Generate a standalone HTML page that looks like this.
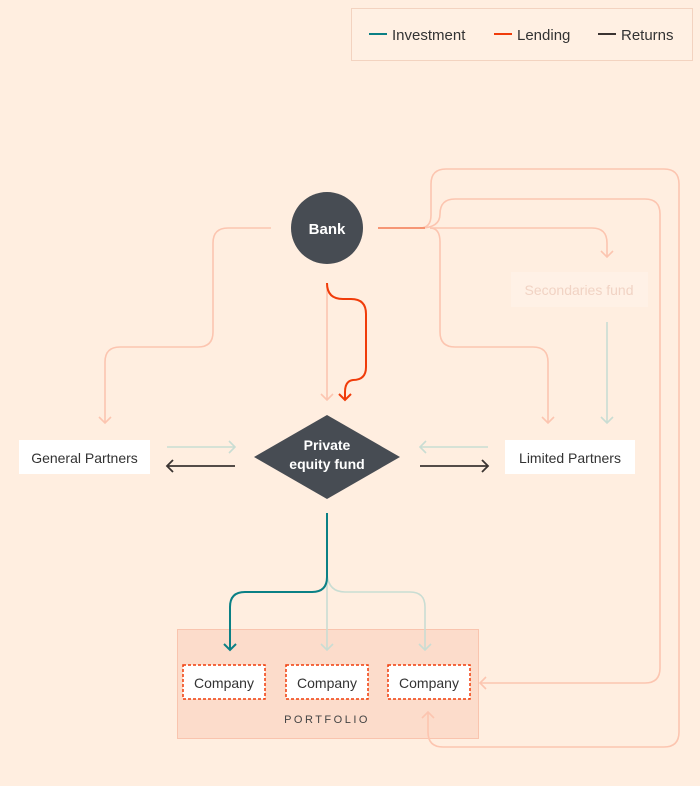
<!DOCTYPE html>
<html><head><meta charset="utf-8"><style>
html,body{margin:0;padding:0;background:#ffeee0;}
svg{display:block;font-family:"Liberation Sans",sans-serif;}
</style></head><body>
<svg width="700" height="786" viewBox="0 0 700 786" xmlns="http://www.w3.org/2000/svg">
<rect width="700" height="786" fill="#ffeee0"/>
<!-- portfolio background -->
<rect x="177.5" y="629.5" width="301" height="109" fill="#fcdccb" stroke="#f9c4ae"/>
<!-- legend -->
<rect x="351.5" y="8.5" width="341" height="52" fill="#fff0e3" stroke="#f3d3c0"/>
<line x1="369" y1="34" x2="387" y2="34" stroke="#0b8085" stroke-width="2"/>
<text x="392" y="40" font-size="15" fill="#333">Investment</text>
<line x1="494" y1="34" x2="512" y2="34" stroke="#f03c0a" stroke-width="2"/>
<text x="517" y="40" font-size="15" fill="#333">Lending</text>
<line x1="598" y1="34" x2="616" y2="34" stroke="#3b3432" stroke-width="2"/>
<text x="621" y="40" font-size="15" fill="#333">Returns</text>

<g fill="none" stroke="#fcc5b0" stroke-width="1.6">
<path d="M271 228 H228 Q213 228 213 243 V332 Q213 347 198 347 H120 Q105 347 105 362 V423"/>
<path d="M99 417 L105 423 L111 417"/>
<path d="M420 228 Q431 228 431 215 V184 Q431 169 446 169 H664 Q679 169 679 184 V732 Q679 747 664 747 H443 Q428 747 428 732 V712"/>
<path d="M422 718 L428 712 L434 718"/>
<path d="M420 228 Q440 228 440 214 Q440 199 455 199 H645 Q660 199 660 214 V668 Q660 683 645 683 H480"/>
<path d="M486 677 L480 683 L486 689"/>
<path d="M430 228 H592 Q607 228 607 243 V257"/>
<path d="M601 251 L607 257 L613 251"/>
<path d="M430 228 Q440 228 440 242 V332 Q440 347 455 347 H533 Q548 347 548 362 V423"/>
<path d="M542 417 L548 423 L554 417"/>
<path d="M327 283 V400"/>
<path d="M321 394 L327 400 L333 394"/>
</g>
<line x1="378" y1="228" x2="425" y2="228" stroke="#f58a66" stroke-width="1.8"/>
<path d="M327 283 Q327 299 343 299 H351 Q366 299 366 314 V367 Q366 380 353 380 Q345 381 345 392 V400" fill="none" stroke="#f03c0a" stroke-width="2"/>
<path d="M339 394 L345 400 L351 394" fill="none" stroke="#f03c0a" stroke-width="2"/>
<rect x="511" y="272" width="137" height="35" fill="#fff1e6"/>
<text x="579" y="295" font-size="14" fill="#f1d3c4" text-anchor="middle">Secondaries fund</text>
<g fill="none" stroke="#c9ddd3" stroke-width="1.6">
<path d="M607 322 V423"/><path d="M601 417 L607 423 L613 417"/>
<path d="M167 447 H235"/><path d="M229 441 L235 447 L229 453"/>
<path d="M488 447 H420"/><path d="M426 441 L420 447 L426 453"/>
<path d="M327 513 V650"/><path d="M321 644 L327 650 L333 644"/>
<path d="M327 575 Q329 592 345 592 H410 Q425 592 425 607 V650"/><path d="M419 644 L425 650 L431 644"/>
</g>
<g fill="none" stroke="#3b3432" stroke-width="1.8">
<path d="M235 466 H167"/><path d="M173 460 L167 466 L173 472"/>
<path d="M420 466 H488"/><path d="M482 460 L488 466 L482 472"/>
</g>
<path d="M327 513 V577 Q327 592 312 592 H245 Q230 592 230 607 V650" fill="none" stroke="#0b8085" stroke-width="2"/>
<path d="M224 644 L230 650 L236 644" fill="none" stroke="#0b8085" stroke-width="2"/>
<circle cx="327" cy="228" r="36" fill="#474c53"/>
<text x="327" y="234" font-size="15" font-weight="bold" fill="#fff" text-anchor="middle">Bank</text>
<polygon points="327,415 400,457 327,499 254,457" fill="#474c53"/>
<text x="327" y="450" font-size="14" font-weight="bold" fill="#fff" text-anchor="middle">Private</text>
<text x="327" y="469" font-size="14" font-weight="bold" fill="#fff" text-anchor="middle">equity fund</text>
<rect x="19" y="440" width="131" height="34" fill="#fff"/>
<text x="84.5" y="463" font-size="14" fill="#333" text-anchor="middle">General Partners</text>
<rect x="505" y="440" width="130" height="34" fill="#fff"/>
<text x="570" y="463" font-size="14" fill="#333" text-anchor="middle">Limited Partners</text>
<g fill="#fff" stroke="#f03c0a" stroke-width="1.5" stroke-dasharray="3,2">
<rect x="183" y="665" width="82" height="34"/>
<rect x="286" y="665" width="82" height="34"/>
<rect x="388" y="665" width="82" height="34"/>
</g>
<g font-size="14" fill="#333" text-anchor="middle">
<text x="224" y="688">Company</text>
<text x="327" y="688">Company</text>
<text x="429" y="688">Company</text>
</g>
<text x="327" y="723" font-size="11" fill="#444" text-anchor="middle" letter-spacing="2.5">PORTFOLIO</text>
</svg>
</body></html>
